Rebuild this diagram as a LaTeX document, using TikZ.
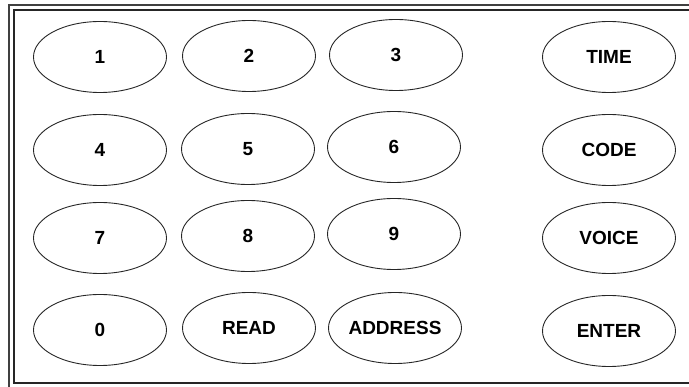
\documentclass[tikz,border=0pt]{standalone}
\usepackage{fontspec}
\setmainfont{Liberation Sans}
\usetikzlibrary{shapes.geometric}

\begin{document}
\begin{tikzpicture}[x=1pt,y=-1pt,key/.style={ellipse,draw=black!85,line width=0.9pt,inner sep=0pt,minimum width=133pt,minimum height=71pt,font=\fontsize{19}{22}\selectfont\bfseries}]
\useasboundingbox (0,0) rectangle (689,387);
\draw[black!75,line width=1.6pt] (9,5) rectangle (720,420);\draw[black!85,line width=1.4pt] (14,10) rectangle (710,383);
\node[key] (k1) at (100,57) {1};\node[key] (k2) at (249,56) {2};\node[key] (k3) at (396,55) {3};\node[key] (time) at (609,57) {TIME};
\node[key] (k4) at (100,150) {4};\node[key] (k5) at (248,149) {5};\node[key] (k6) at (394,147) {6};\node[key] (code) at (609,150) {CODE};
\node[key] (k7) at (100,238) {7};\node[key] (k8) at (248,236) {8};\node[key] (k9) at (394,234) {9};\node[key] (voice) at (609,238) {VOICE};
\node[key] (k0) at (100,330) {0};\node[key] (read) at (249,328) {READ};\node[key] (addr) at (395,328) {ADDRESS};\node[key] (enter) at (609,331) {ENTER};
\end{tikzpicture}
\end{document}
